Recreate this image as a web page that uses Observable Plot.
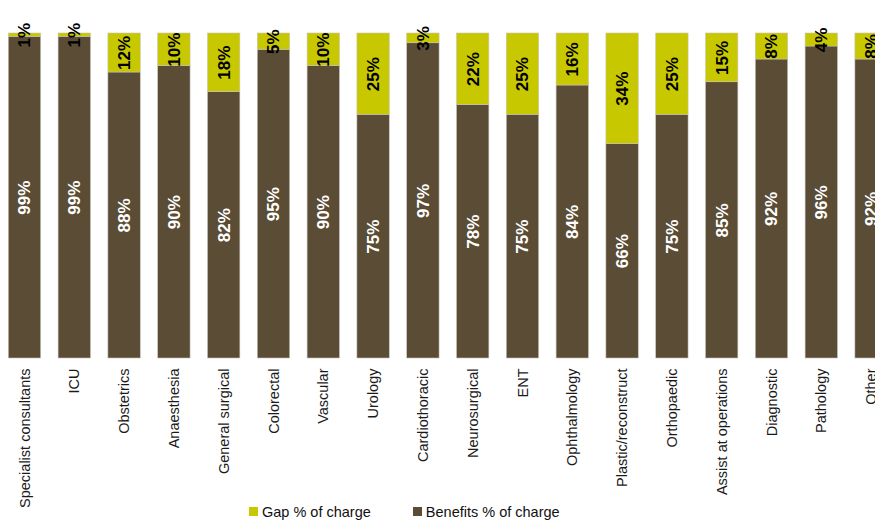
<!DOCTYPE html>
<html>
<head>
<meta charset="utf-8">
<script src="https://cdn.jsdelivr.net/npm/d3@7"></script>
<script src="https://cdn.jsdelivr.net/npm/@observablehq/plot@0.6"></script>
<style>
  html, body { margin: 0; padding: 0; background: #fff; overflow: hidden; width: 875px; height: 522px; }
  #chart { position: absolute; left: 0; top: 0; }
  #chart svg { overflow: visible; }
  #legend { position: absolute; left: 249px; top: 503px; font-family: "Liberation Sans", Arial, sans-serif; font-size: 14.5px; color: #111; white-space: nowrap; }
  #legend span.item { display: inline-flex; align-items: center; margin-right: 42px; }
  #legend span.sw { display: inline-block; width: 9px; height: 9px; margin-right: 4px; }
</style>
</head>
<body>
<div id="chart"></div>
<div id="legend"></div>
<script>
const categories = ["Specialist consultants", "ICU", "Obstetrics", "Anaesthesia", "General surgical", "Colorectal", "Vascular", "Urology", "Cardiothoracic", "Neurosurgical", "ENT", "Ophthalmology", "Plastic/reconstruct", "Orthopaedic", "Assist at operations", "Diagnostic", "Pathology", "Other"];
const benefits = [99, 99, 88, 90, 82, 95, 90, 75, 97, 78, 75, 84, 66, 75, 85, 92, 96, 92];
const gap      = [1, 1, 12, 10, 18, 5, 10, 25, 3, 22, 25, 16, 34, 25, 15, 8, 4, 8];
const seriesNames = ["Benefits % of charge", "Gap % of charge"];
const seriesColors = ["#5a4c35", "#c8c800"];
const labelColors = ["#ffffff", "#000000"];

const data = [];
categories.forEach((c, i) => {
  data.push({cat: c, series: seriesNames[0], value: benefits[i]});
  data.push({cat: c, series: seriesNames[1], value: gap[i]});
});

const step = 49.8;
const x0 = 8.3 - 0.175 * step;
const x1 = x0 + categories.length * step;

const chart = Plot.plot({
  width: 875,
  height: 500,
  marginTop: 33,
  marginBottom: 142,
  marginLeft: 0,
  marginRight: 0,
  style: {fontFamily: "'Liberation Sans', Arial, sans-serif", background: "white"},
  x: {domain: categories, range: [x0, x1], paddingInner: 0.35, paddingOuter: 0.175, round: false, label: null},
  y: {domain: [0, 100], axis: null},
  color: {domain: seriesNames, range: seriesColors},
  marks: [
    Plot.barY(data, Plot.stackY({x: "cat", y: "value", fill: "series", stroke: "#c9c3b8", strokeWidth: 0.6, order: null})),
    Plot.text(data, Plot.stackY({x: "cat", y: "value", order: null, text: d => d.value + "%", rotate: -90,
      fill: d => labelColors[seriesNames.indexOf(d.series)], fontWeight: "bold", fontSize: 17})),
    Plot.axisX({tickRotate: -90, tickSize: 0, tickPadding: 10, fontSize: 14.5, label: null, fill: "#1a1a1a"})
  ]
});
document.getElementById("chart").appendChild(chart);

const legend = document.getElementById("legend");
[1, 0].forEach(i => {
  const item = document.createElement("span");
  item.className = "item";
  const sw = document.createElement("span");
  sw.className = "sw";
  sw.style.background = seriesColors[i];
  item.appendChild(sw);
  item.appendChild(document.createTextNode(seriesNames[i]));
  legend.appendChild(item);
});
</script>
</body>
</html>
